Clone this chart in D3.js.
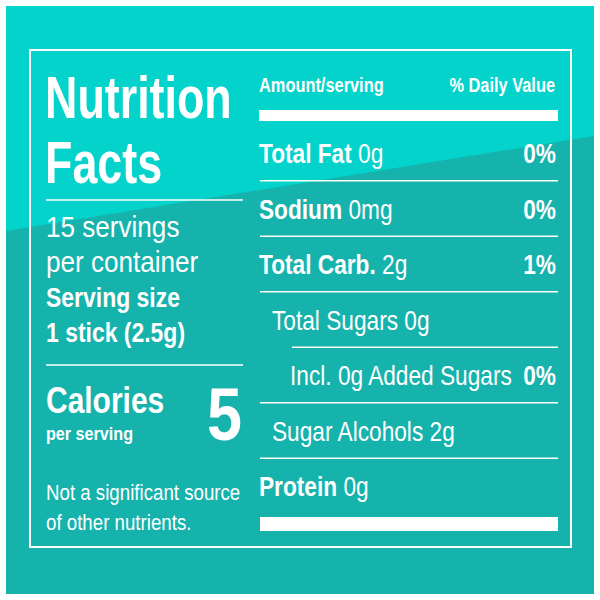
<!DOCTYPE html><html><head><meta charset="utf-8">
<script src="https://cdn.jsdelivr.net/npm/d3@7"></script>
<style>body{margin:0;background:#fff}</style></head><body>
<script>
const headerLeft = ["Nutrition","Facts"];
const servingLines = [["15 servings",false],["per container",false],["Serving size",true],["1 stick (2.5g)",true]];
const calories = 5;
const footnote = ["Not a significant source","of other nutrients."];
const rowLabels = ["Total Fat","Sodium","Total Carb.","Total Sugars","Incl. 0g Added Sugars","Sugar Alcohols","Protein"];
const rowAmounts = ["0g","0mg","2g","0g","","2g","0g"];
const rowBold = [true,true,true,false,false,false,true];
const rowIndent = [0,0,0,1,2,1,0];
const rowDV = ["0%","0%","1%","","0%","",""];

const F = "'Liberation Sans',Arial,sans-serif";
const svg = d3.select("body").append("svg").attr("width",600).attr("height",600);
svg.append("rect").attr("x",6).attr("y",6).attr("width",588).attr("height",588).attr("fill","#16b2ac");
svg.append("path").attr("d","M6,6H594V136L6,231Z").attr("fill","#03d3cb");
svg.append("rect").attr("x",30).attr("y",50).attr("width",541).attr("height",497).attr("fill","none").attr("stroke","#fff").attr("stroke-width",2);
const W="#fff";
const t=(x,y,s,size,bold,anchor,k)=>svg.append("text").attr("transform",`translate(${x},${y}) scale(${k||0.82},1)`).text(s).attr("font-family",F).attr("font-size",size).attr("font-weight",bold?"bold":"normal").attr("fill",W).attr("text-anchor",anchor||"start");
const hl=(x1,x2,y,w)=>svg.append("line").attr("x1",x1).attr("x2",x2).attr("y1",y).attr("y2",y).attr("stroke",W).attr("stroke-width",w||1.5);

const yHead=d3.scalePoint().domain(headerLeft).range([118,183]);
headerLeft.forEach(h=>t(45,yHead(h),h,59,true,"start",0.76));
hl(46,243,200);
const ySv=d3.scaleLinear().domain([0,3]).range([237,342]);
servingLines.forEach((d,i)=>t(46,ySv(i),d[0],d[1]?28:30,d[1],"start",d[1]?0.82:0.87));
hl(46,243,365);
t(46,413,"Calories",37,true,"start",0.81);
t(46,440,"per serving",19,true,"start",0.85);
t(242,440,String(calories),74,true,"end",0.85);
footnote.forEach((s,i)=>t(46,500+i*30,s,22,false,"start",0.85));

t(259,92,"Amount/serving",20,true);
t(555,92,"% Daily Value",20,true,"end");
svg.append("rect").attr("x",259).attr("y",110).attr("width",299).attr("height",11).attr("fill",W);
const yRow=d3.scaleLinear().domain([0,6]).range([163,496]);
const indentX=[259,272,290];
rowLabels.forEach((lab,i)=>{
  const y=yRow(i);
  const txt=svg.append("text").attr("transform",`translate(${indentX[rowIndent[i]]},${y}) scale(0.81,1)`).attr("font-family",F).attr("font-size",28).attr("fill",W);
  txt.append("tspan").attr("font-weight",rowBold[i]?"bold":"normal").text(lab);
  if(rowAmounts[i]) txt.append("tspan").text(" "+rowAmounts[i]);
  if(rowDV[i]) t(556,y,rowDV[i],28,true,"end",0.81);
  if(i<6){const ly=(yRow(i)+yRow(i+1))/2-10; hl(i===3?292:260,558,ly);}
});
svg.append("rect").attr("x",260).attr("y",517).attr("width",298).attr("height",14).attr("fill",W);
</script></body></html>
